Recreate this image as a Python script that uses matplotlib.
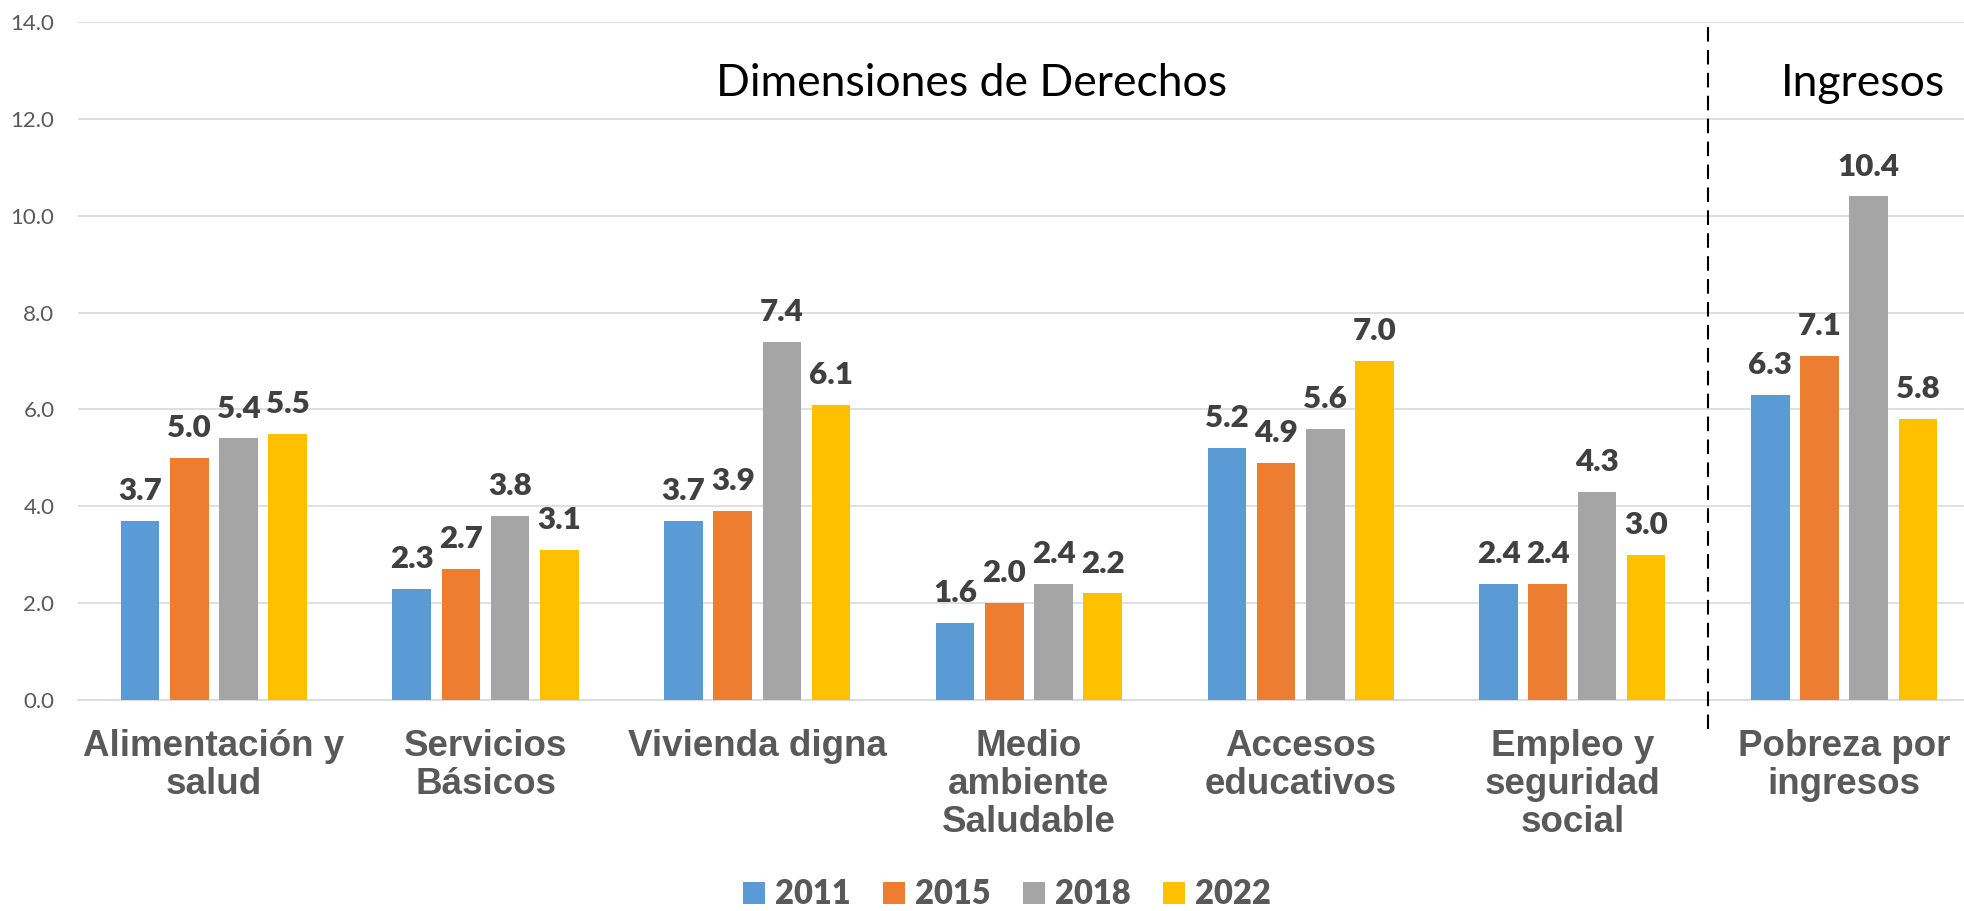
import numpy as np
import matplotlib.pyplot as plt
from matplotlib.patches import Patch

categorias = ["Alimentación y\nsalud", "Servicios\nBásicos", "Vivienda digna",
              "Medio\nambiente\nSaludable", "Accesos\neducativos",
              "Empleo y\nseguridad\nsocial", "Pobreza por\ningresos"]
anios = ["2011", "2015", "2018", "2022"]
v2011 = [3.7, 2.3, 3.7, 1.6, 5.2, 2.4, 6.3]
v2015 = [5.0, 2.7, 3.9, 2.0, 4.9, 2.4, 7.1]
v2018 = [5.4, 3.8, 7.4, 2.4, 5.6, 4.3, 10.4]
v2022 = [5.5, 3.1, 6.1, 2.2, 7.0, 3.0, 5.8]
series = [v2011, v2015, v2018, v2022]
colores = ["#5B9BD5", "#ED7D31", "#A5A5A5", "#FFC000"]

fig = plt.figure(figsize=(19.64, 9.11), dpi=100)
ax = fig.add_axes([78/1964, 1-700/911, 1-78/1964, 678/911])

x = np.arange(len(categorias))
ancho = 0.142
paso = 0.181
for i, (vals, col) in enumerate(zip(series, colores)):
    pos = x + (i - 1.5) * paso
    ax.bar(pos, vals, width=ancho, color=col, zorder=3)
    for p, v in zip(pos, vals):
        ax.annotate(f"{v:.1f}", (p, v), xytext=(0, 15), textcoords="offset points",
                    ha="center", va="baseline", fontsize=22.5, fontweight="heavy",
                    family="Lato", color="#404040")

ax.set_ylim(0, 14)
ax.set_xlim(-0.5, -0.5 + 1886/271.7)
ax.set_yticks(np.arange(0, 14.1, 2))
ax.set_yticklabels([f"{t:.1f}" for t in np.arange(0, 14.1, 2)],
                   fontsize=16, family="Lato", color="#595959")
ax.set_xticks(x)
ax.set_xticklabels(categorias, fontsize=26.5, fontweight="bold",
                   family="Liberation Sans", color="#595959", linespacing=1.1)
ax.tick_params(axis="x", length=0, pad=21)
ax.tick_params(axis="y", length=0, pad=17)
ax.grid(axis="y", color="#D9D9D9", lw=1.2, zorder=0)
for s in ["top", "right", "left"]:
    ax.spines[s].set_visible(False)
ax.spines["bottom"].set_color("#D9D9D9")
ax.spines["bottom"].set_linewidth(1.2)

# separador entre derechos e ingresos
ax.plot([5.5, 5.5], [13.9, -0.72], color="black", lw=1.5,
        linestyle=(0, (7, 4)), clip_on=False, zorder=4)

ax.text(2.79, 12.74, "Dimensiones de Derechos", fontsize=32, family="Lato",
        ha="center", va="center", color="black")
ax.text(6.07, 12.74, "Ingresos", fontsize=32, family="Lato",
        ha="center", va="center", color="black")

handles = [Patch(facecolor=c) for c in colores]
leg = fig.legend(handles, anios, loc="center", bbox_to_anchor=(1007/1964, 1-894/911),
                 ncol=4, frameon=False, handlelength=0.66, handleheight=0.66,
                 handletextpad=0.31, columnspacing=1.0,
                 prop={"family": "Lato", "weight": "heavy", "size": 23.5})
for t in leg.get_texts():
    t.set_color("#595959")

fig.savefig("out.png", dpi=100)
